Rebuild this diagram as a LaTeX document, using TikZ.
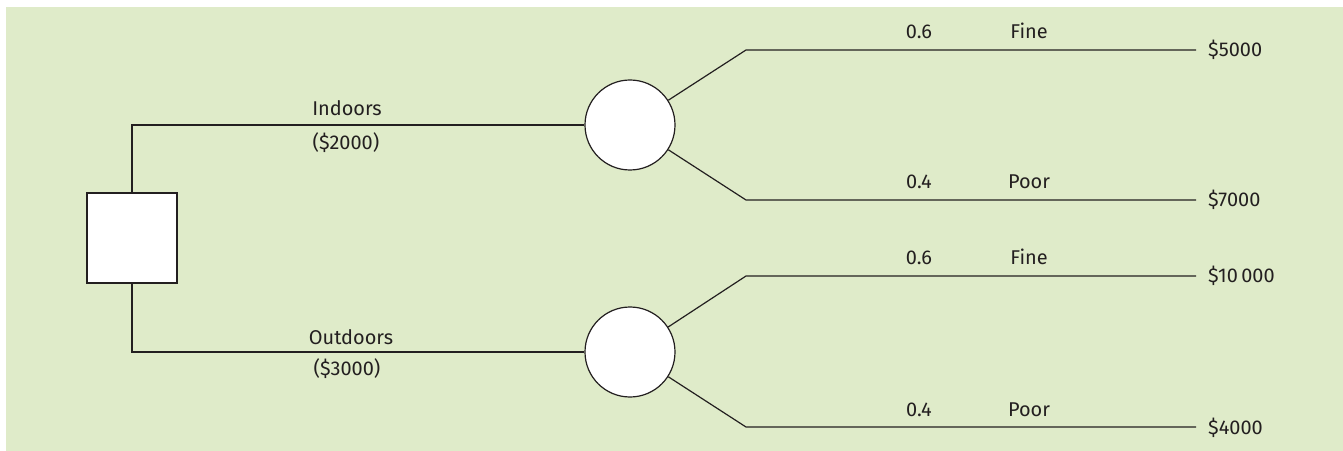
\documentclass[tikz,border=0pt]{standalone}
\usepackage{fontspec}
\setmainfont{Fira Sans}
\definecolor{bggreen}{RGB}{223,235,201}
\definecolor{ink}{RGB}{35,31,32}
\begin{document}
\begin{tikzpicture}[x=1bp,y=-1bp,
  line/.style={draw=ink,line width=1.2bp},
  decision/.style={line,fill=white,rectangle,minimum size=90bp,inner sep=0pt},
  chance/.style={line,fill=white,circle,minimum size=90bp,inner sep=0pt},
  lbl/.style={font=\fontsize{20}{22}\selectfont,text=ink,inner sep=0pt,anchor=base},
  val/.style={font=\fontsize{20}{22}\selectfont,text=ink,inner sep=0pt,anchor=base west}]
\useasboundingbox (0,0) rectangle (1343,451);
\fill[bggreen] (6,7) rectangle (1343,451);
% nodes
\node[decision] (dec) at (132,238) {};
\node[chance] (c1) at (630,125) {};
\node[chance] (c2) at (630,352) {};
\coordinate (k1) at (746,50);
\coordinate (k2) at (746,200);
\coordinate (k3) at (746,276);
\coordinate (k4) at (746,427);
\node[val] (v1) at (1208,57) {\$5000};
\node[val] (v2) at (1208,207) {\$7000};
\node[val] (v3) at (1208,283) {\$10\,000};
\node[val] (v4) at (1208,434) {\$4000};
\coordinate (e1) at (1196,50);
\coordinate (e2) at (1196,200);
\coordinate (e3) at (1196,276);
\coordinate (e4) at (1196,427);
% connectors
\draw[line] (dec.north) |- (c1.west);
\draw[line] (dec.south) |- (c2.west);
\draw[line] (c1) -- (k1) -- (e1);
\draw[line] (c1) -- (k2) -- (e2);
\draw[line] (c2) -- (k3) -- (e3);
\draw[line] (c2) -- (k4) -- (e4);
% labels
\node[lbl] (in) at (347,116) {Indoors};
\node[lbl] (inc) at (346,150) {(\$2000)};
\node[lbl] (out) at (351,344) {Outdoors};
\node[lbl] (outc) at (347,375) {(\$3000)};
\node[lbl] (p1) at (919,39) {0.6};
\node[lbl] (f1) at (1029,39) {Fine};
\node[lbl] (p2) at (919,189) {0.4};
\node[lbl] (f2) at (1029,189) {Poor};
\node[lbl] (p3) at (919,265) {0.6};
\node[lbl] (f3) at (1029,265) {Fine};
\node[lbl] (p4) at (919,416) {0.4};
\node[lbl] (f4) at (1029,416) {Poor};
\end{tikzpicture}
\end{document}
